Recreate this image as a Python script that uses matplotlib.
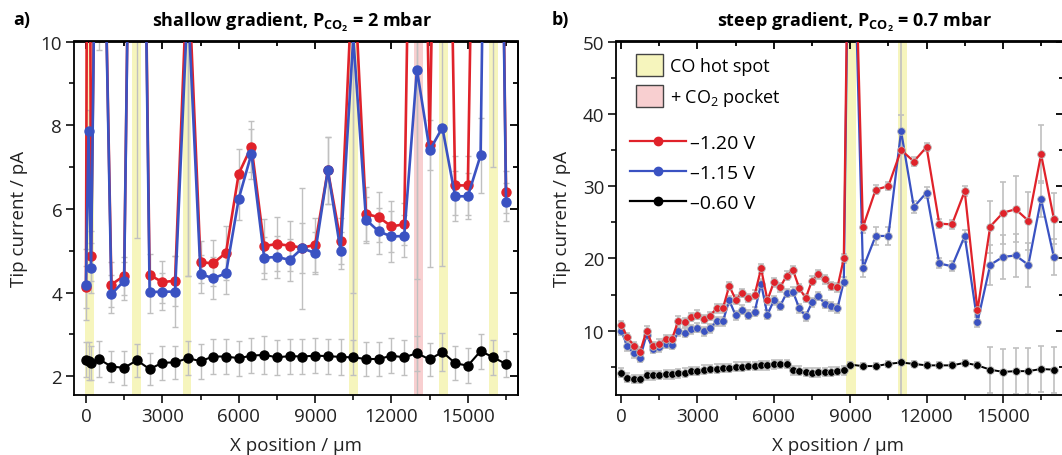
import matplotlib
matplotlib.use("Agg")
import matplotlib.pyplot as plt
from matplotlib.ticker import MultipleLocator
from matplotlib.patches import Patch
from matplotlib.lines import Line2D

plt.rcParams['font.family'] = ['Open Sans', 'DejaVu Sans']
plt.rcParams['mathtext.fontset'] = 'custom'
plt.rcParams['mathtext.rm'] = 'Open Sans'
plt.rcParams['mathtext.bf'] = 'Open Sans:bold'
plt.rcParams['mathtext.it'] = 'Open Sans:italic'

RED = '#e0222a'
BLUE = '#3a52c2'
BLACK = '#000000'
ERR = '#c0c0c0'
YELLOW = '#f6f5bd'
PINK = '#f8cfd0'

# ---- panel a: shallow gradient ----
x_a = [0, 100, 200, 500, 1000, 1500, 2000, 2500, 3000, 3500, 4000, 4500,
       5000, 5500, 6000, 6500, 7000, 7500, 8000, 8500, 9000, 9500, 10000,
       10500, 11000, 11500, 12000, 12500, 13000, 13500, 14000, 14500, 15000,
       15500, 16000, 16500]
red_a = [4.13, 25, 4.88, 20, 4.19, 4.40, 28, 4.42, 4.25, 4.28, 12, 4.72,
         4.70, 4.95, 6.84, 7.49, 5.11, 5.16, 5.12, 5.07, 5.14, 6.92, 5.24,
         12, 5.88, 5.80, 5.58, 5.63, 25, 7.52, 25, 6.56, 6.56,
         25, 30, 6.40]
blue_a = [4.19, 7.87, 4.58, 20, 3.96, 4.28, 28, 4.01, 4.02, 4.02, 11, 4.44,
          4.34, 4.46, 6.24, 7.32, 4.83, 4.85, 4.78, 5.06, 4.94, 6.92, 5.00,
          10.1, 5.74, 5.46, 5.34, 5.35, 9.33, 7.40, 7.94, 6.30, 6.30,
          7.28, 30, 6.17]
black_a = [2.39, 2.37, 2.32, 2.41, 2.23, 2.20, 2.38, 2.17, 2.32, 2.33, 2.43, 2.36,
           2.47, 2.47, 2.43, 2.49, 2.51, 2.45, 2.48, 2.47, 2.49, 2.48, 2.46,
           2.45, 2.41, 2.41, 2.49, 2.45, 2.55, 2.40, 2.58, 2.31, 2.25,
           2.60, 2.45, 2.29]
red_a_err = [0.5, 10, 0.6, 10.2, 0.53, 0.45, 22.7, 0.5, 0.5, 0.6, 7.6, 0.5,
             0.55, 0.65, 0.6, 0.6, 0.65, 0.65, 0.6, 0.6, 0.65, 0.8, 0.55,
             8, 0.65, 0.6, 0.6, 0.5, 24, 0.6, 10, 0.7, 0.7,
             10, 23, 0.5]
blue_a_err = [0.85, 0.5, 0.6, 0.5, 0.45, 0.45, 0.5, 0.5, 0.45, 0.85, 6.6, 0.45,
              0.5, 0.5, 0.5, 0.6, 0.5, 0.5, 0.5, 1.45, 0.5, 0.8, 0.45,
              7.6, 0.55, 0.55, 0.6, 0.5, 5.0, 2.8, 3.3, 0.6, 0.55,
              0.9, 0.5, 0.45]
black_a_err = [0.42, 0.45, 0.4, 0.42, 0.38, 0.4, 0.4, 0.38, 0.4, 0.4, 0.4, 0.42,
               0.42, 0.42, 0.42, 0.42, 0.45, 0.42, 0.42, 0.42, 0.42, 0.42, 0.42,
               0.42, 0.4, 0.4, 0.42, 0.42, 0.42, 0.4, 0.45, 0.4, 0.42,
               0.42, 0.42, 0.3]
hot_a = [150, 2000, 3970, 10500, 14030, 16000]
pocket_a = [13050]

# ---- panel b: steep gradient ----
x_b = [0, 250, 500, 750, 1000, 1250, 1500, 1750, 2000, 2250, 2500, 2750,
       3000, 3250, 3500, 3750, 4000, 4250, 4500, 4750, 5000, 5250, 5500,
       5750, 6000, 6250, 6500, 6750, 7000, 7250, 7500, 7750, 8000, 8250,
       8500, 8750, 9000, 9500, 10000, 10500, 11000, 11500, 12000, 12500,
       13000, 13500, 14000, 14500, 15000, 15500, 16000, 16500, 17000]
red_b = [10.8, 9.1, 7.9, 7.1, 10.0, 7.85, 8.2, 8.85, 8.85, 11.4, 11.15, 11.9,
         12.2, 11.6, 12.05, 13.1, 13.1, 16.2, 14.3, 15.2, 14.5, 15.0, 18.6,
         14.2, 16.7, 16.0, 17.6, 18.4, 15.9, 14.5, 16.9, 17.8, 17.1, 16.2,
         16.0, 20.0, 90, 24.3, 29.5, 30.0, 35.0, 33.4, 35.4, 24.8,
         24.7, 29.3, 12.8, 24.4, 26.3, 26.8, 25.2, 34.4, 25.5]
blue_b = [10.0, 7.85, 6.85, 6.25, 9.45, 7.5, 7.7, 8.15, 8.05, 9.9, 9.7, 10.2,
          10.4, 9.9, 10.3, 11.3, 11.3, 14.2, 12.1, 12.9, 12.2, 12.65, 16.5,
          12.2, 14.2, 13.4, 15.2, 15.4, 13.1, 12.0, 13.9, 14.8, 13.7, 13.35,
          13.1, 16.8, 85, 18.6, 23.1, 23.1, 37.6, 27.1, 29.1, 19.3,
          18.9, 23.1, 11.2, 19.1, 20.2, 20.4, 19.1, 28.2, 20.2]
black_b = [4.2, 3.5, 3.3, 3.3, 3.8, 3.8, 3.85, 3.95, 3.95, 4.1, 4.2, 4.4,
           4.4, 4.6, 4.7, 4.75, 4.85, 4.85, 5.0, 5.0, 5.1, 5.1, 5.2,
           5.2, 5.35, 5.4, 5.4, 4.5, 4.45, 4.3, 4.2, 4.25, 4.3, 4.35,
           4.4, 4.5, 5.3, 5.1, 5.1, 5.4, 5.6, 5.4, 5.2, 5.2,
           5.2, 5.55, 5.2, 4.6, 4.3, 4.4, 4.4, 4.7, 4.6]
red_b_err = [0.6] * 36 + [30, 0.8, 0.6, 0.6, 50, 0.6, 0.6, 0.6,
                          0.6, 0.7, 0.6, 3.6, 4.3, 4.6, 4.0, 4.0, 3.5]
blue_b_err = [0.6] * 36 + [30, 1.2, 1.2, 1.2, 2.2, 0.8, 0.8, 0.7,
                           0.7, 0.8, 0.7, 2.8, 3.0, 3.0, 3.0, 2.5, 2.5]
black_b_err = [0.6] * 36 + [0.4, 0.4, 0.4, 0.4, 0.4, 0.4, 0.4, 0.4,
                            0.4, 0.4, 0.4, 3.2, 3.2, 3.2, 3.2, 3.2, 3.2]
hot_b = [9030, 11050]

W, H = 1062, 456
fig = plt.figure(figsize=(W / 100, H / 100), dpi=100)
ax_a = fig.add_axes([74 / W, 60 / H, 444 / W, 353.5 / H])
ax_b = fig.add_axes([616 / W, 60 / H, 448 / W, 353.5 / H])


def style_axes(ax, xlim, ylim, ymaj, ymin):
    ax.set_xlim(*xlim)
    ax.set_ylim(*ylim)
    for s in ax.spines.values():
        s.set_linewidth(1.3)
    ax.xaxis.set_major_locator(MultipleLocator(3000))
    ax.xaxis.set_minor_locator(MultipleLocator(1500))
    ax.yaxis.set_major_locator(MultipleLocator(ymaj))
    ax.yaxis.set_minor_locator(MultipleLocator(ymin))
    ax.tick_params(which='both', direction='out', width=1.3, labelsize=13.5,
                   colors='#222222', pad=3)
    ax.tick_params(which='major', length=5.5)
    ax.tick_params(which='minor', length=3.5)
    top = ax.secondary_xaxis('top')
    top.xaxis.set_major_locator(MultipleLocator(3000))
    top.xaxis.set_minor_locator(MultipleLocator(1500))
    right = ax.secondary_yaxis('right')
    right.yaxis.set_major_locator(MultipleLocator(ymaj))
    right.yaxis.set_minor_locator(MultipleLocator(ymin))
    for sec in (top, right):
        sec.tick_params(which='both', direction='in', width=1.3,
                        labeltop=False, labelright=False)
        sec.tick_params(which='major', length=5.5)
        sec.tick_params(which='minor', length=3.5)
        for s in sec.spines.values():
            s.set_linewidth(1.3)


# panel a
for c in hot_a:
    ax_a.axvspan(c - 175, c + 175, color=YELLOW, lw=0, zorder=0)
for c in pocket_a:
    ax_a.axvspan(c - 175, c + 175, color=PINK, lw=0, zorder=0)
for y, e in [(black_a, black_a_err), (red_a, red_a_err), (blue_a, blue_a_err)]:
    ax_a.errorbar(x_a, y, yerr=e, fmt='none', ecolor=ERR, elinewidth=1,
                  capsize=2.5, capthick=1, zorder=1)
ax_a.plot(x_a, black_a, '-o', color=BLACK, lw=1.5, ms=6.5, zorder=3)
ax_a.plot(x_a, red_a, '-o', color=RED, lw=1.9, ms=6.5, zorder=4)
ax_a.plot(x_a, blue_a, '-o', color=BLUE, lw=1.9, ms=6.5, zorder=5)
style_axes(ax_a, (-470, 16970), (1.55, 10), 2, 1)

# panel b
for c in hot_b:
    ax_b.axvspan(c - 190, c + 190, color=YELLOW, lw=0, zorder=0)
for y, e in [(black_b, black_b_err), (blue_b, blue_b_err), (red_b, red_b_err)]:
    ax_b.errorbar(x_b, y, yerr=e, fmt='none', ecolor=ERR, elinewidth=1.2,
                  capsize=2.5, capthick=1.2, zorder=1)
ax_b.plot(x_b, black_b, '-o', color=BLACK, lw=1.4, ms=5.5, mec='#b8b8b8',
          mew=0.6, zorder=3)
ax_b.plot(x_b, blue_b, '-o', color=BLUE, lw=1.6, ms=5.5, mec='#b8b8b8',
          mew=0.6, zorder=4)
ax_b.plot(x_b, red_b, '-o', color=RED, lw=1.6, ms=5.5, mec='#b8b8b8',
          mew=0.6, zorder=5)
style_axes(ax_b, (-200, 17400), (1.1, 50), 10, 5)

# legend (panel b)
patches = [Patch(facecolor=YELLOW, edgecolor='#444444', lw=1, label='CO hot spot'),
           Patch(facecolor=PINK, edgecolor='#444444', lw=1, label='+ CO$_2$ pocket')]
leg1 = ax_b.legend(handles=patches, loc='upper left', bbox_to_anchor=(0.02, 0.995),
                   frameon=False, fontsize=13, handlelength=1.5, handleheight=1.45,
                   handletextpad=0.4, labelspacing=0.55, borderaxespad=0.2)
ax_b.add_artist(leg1)
lines = [Line2D([], [], color=RED, lw=1.6, marker='o', ms=6, label='\u20131.20 V'),
         Line2D([], [], color=BLUE, lw=1.6, marker='o', ms=6, label='\u20131.15 V'),
         Line2D([], [], color=BLACK, lw=1.6, marker='o', ms=6, label='\u20130.60 V')]
ax_b.legend(handles=lines, loc='upper left', bbox_to_anchor=(0.005, 0.772),
            frameon=False, fontsize=14, handlelength=2.9, handletextpad=0.2,
            labelspacing=0.62, borderaxespad=0.2)

# texts
fig.text(292 / W, 1 - 22 / H, r'shallow gradient, $\mathbf{P_{CO_2}}$ = 2 mbar',
         ha='center', va='center', fontsize=13, fontweight='bold')
fig.text(855 / W, 1 - 22 / H, r'steep gradient, $\mathbf{P_{CO_2}}$ = 0.7 mbar',
         ha='center', va='center', fontsize=13, fontweight='bold')
fig.text(22 / W, 1 - 20 / H, 'a)', ha='center', va='center', fontsize=13,
         fontweight='bold')
fig.text(560 / W, 1 - 20 / H, 'b)', ha='center', va='center', fontsize=13,
         fontweight='bold')
for xc in (296, 838):
    fig.text(xc / W, 1 - 446 / H, 'X position / \u00b5m', ha='center',
             va='center', fontsize=13.5, color='#222222')
for xc in (19, 562):
    fig.text(xc / W, 1 - 219 / H, 'Tip current / pA', ha='center', va='center',
             rotation=90, fontsize=13.5, color='#222222')

fig.savefig('out.png', dpi=100)
